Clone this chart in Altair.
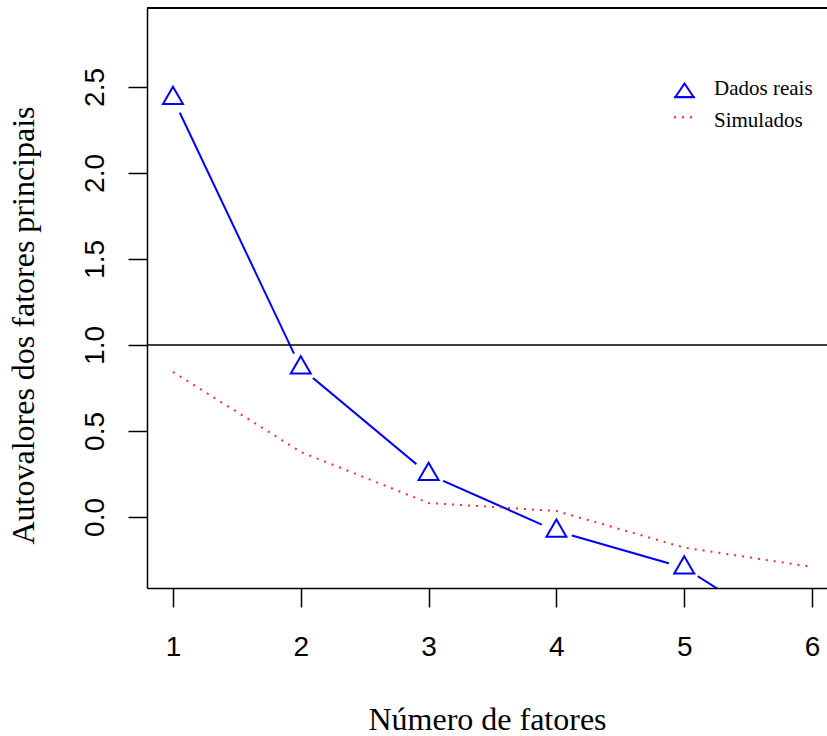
import altair as alt
import pandas as pd

# ---- data ----
fatores = [1, 2, 3, 4, 5, 6]
dados_reais = [2.434, 0.867, 0.248, -0.082, -0.295, -0.765]
simulados = [0.843, 0.378, 0.081, 0.035, -0.178, -0.290]
linha_kaiser = 1.0
series = ["Dados reais", "Simulados"]
x_ticks = [1, 2, 3, 4, 5, 6]
y_ticks = [0.0, 0.5, 1.0, 1.5, 2.0, 2.5]

df = pd.DataFrame({"fatores": fatores, "reais": dados_reais, "simulados": simulados})
legend_df = pd.DataFrame({"serie": series})

SERIF = "Liberation Serif"
SANS = "Liberation Sans"

xscale = alt.Scale(domain=[0.797, 6.117], nice=False, zero=False)
yscale = alt.Scale(domain=[-0.413, 2.959], nice=False, zero=False)

xaxis = alt.Axis(
    values=x_ticks, format="d", grid=False,
    labelFont=SANS, labelFontSize=28, labelColor="black",
    labelBaseline="alphabetic", labelPadding=48, labelFlush=False,
    tickSize=19, tickWidth=1.5, tickColor="black",
    domainColor="black", domainWidth=1.5,
    title="Número de fatores", titleFont=SERIF, titleFontSize=32,
    titleFontWeight="normal", titleColor="black", titleBaseline="alphabetic",
    titleAlign="center", titleX=340, titleY=141,
)
yaxis = alt.Axis(
    values=y_ticks, format=".1f", grid=False,
    labelFont=SANS, labelFontSize=28, labelColor="black",
    labelAngle=270, labelAlign="center", labelBaseline="alphabetic",
    labelPadding=25, labelFlush=False,
    tickSize=19, tickWidth=1.5, tickColor="black",
    domainColor="black", domainWidth=1.5,
    title="Autovalores dos fatores principais", titleFont=SERIF, titleFontSize=32,
    titleFontWeight="normal", titleColor="black", titleAngle=270,
    titleBaseline="alphabetic", titleAlign="center", titleX=-114, titleY=317,
)


def X():
    return alt.X("fatores:Q", scale=xscale, axis=xaxis)


def Y(field):
    return alt.Y(f"{field}:Q", scale=yscale, axis=yaxis)


base = alt.Chart(df)

blue_line = base.mark_line(color="blue", strokeWidth=2, clip=True).encode(x=X(), y=Y("reais"))
gaps = base.mark_point(filled=True, fill="white", stroke="white", strokeWidth=0,
                       shape="circle", size=1018, opacity=1, clip=True).encode(x=X(), y=Y("reais"))
red_line = base.mark_line(color="#ff2a2a", strokeWidth=2, strokeDash=[2, 6], clip=True).encode(
    x=X(), y=Y("simulados"))
kaiser = alt.Chart(pd.DataFrame({"v": [linha_kaiser]})).mark_rule(
    color="black", strokeWidth=1.5).encode(y=alt.Y("v:Q", scale=yscale, axis=yaxis))
top_border = base.mark_rule(color="black", strokeWidth=1.5).encode(y=alt.value(0))
triangles = base.mark_point(
    shape="M0,-1.155L1,0.577L-1,0.577Z", size=400, filled=False,
    color="blue", strokeWidth=2, opacity=1, clip=True,
).encode(x=X(), y=Y("reais"))

tri_path = "M-1,0.84L1,0.84M0,-0.48L0.86,0.81L-0.86,0.81Z"
dot_path = "M-1,-0.31L1,-0.31"
leg = alt.Legend(
    title=None, orient="none", legendX=526, legendY=69, padding=0,
    symbolSize=441, symbolStrokeWidth=2, symbolOffset=0,
    labelFont=SERIF, labelFontSize=21, labelColor="black", labelOffset=18,
    rowPadding=7, labelLimit=300,
    labelExpr="datum.value == 'Simulados' ? '\u2002Simulados' : datum.label",
)
legend_layer = alt.Chart(legend_df).transform_filter("false").mark_point(
    filled=False, strokeWidth=2, opacity=1
).encode(
    color=alt.Color("serie:N", scale=alt.Scale(domain=series, range=["blue", "#ff2a2a"]), legend=leg),
    shape=alt.Shape("serie:N", scale=alt.Scale(domain=series, range=[tri_path, dot_path]), legend=leg),
    strokeDash=alt.StrokeDash("serie:N", scale=alt.Scale(domain=series, range=[[1, 0], [2, 6]]), legend=leg),
)

chart = alt.layer(
    blue_line, gaps, red_line, kaiser, top_border, triangles, legend_layer
).properties(
    width=680, height=580,
    padding={"left": 147, "top": 8, "right": 0, "bottom": 148},
    autosize=alt.AutoSizeParams(type="none"),
    background="white",
).configure_view(stroke="transparent")

chart.save("out.html", embed_options={"renderer": "svg", "actions": False})
